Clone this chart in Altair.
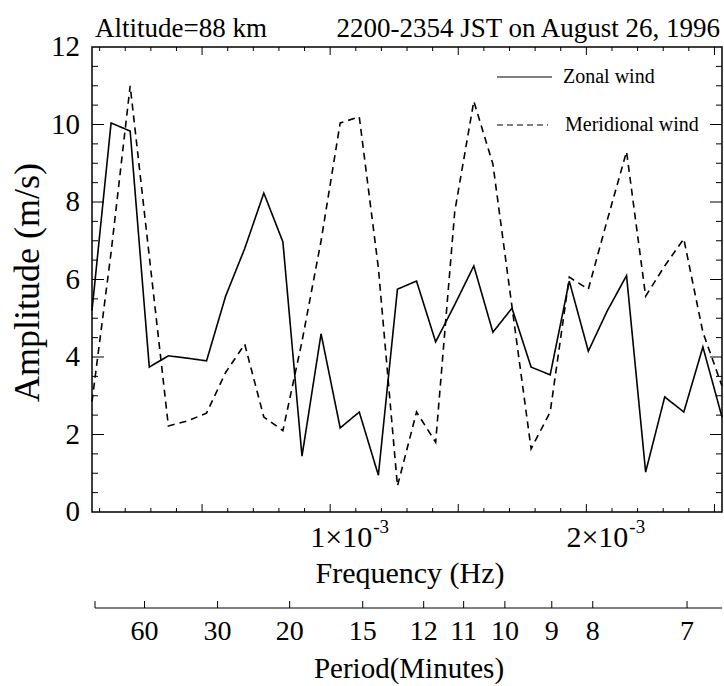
import altair as alt
import pandas as pd

# ---------------- data ----------------
freq_hz = [0.0703e-3, 0.1448e-3, 0.2193e-3, 0.2939e-3, 0.3684e-3, 0.4429e-3, 0.5174e-3,
           0.5919e-3, 0.6665e-3, 0.7410e-3, 0.8155e-3, 0.8900e-3, 0.9645e-3, 1.0391e-3,
           1.1136e-3, 1.1881e-3, 1.2626e-3, 1.3371e-3, 1.4117e-3, 1.4862e-3, 1.5607e-3,
           1.6352e-3, 1.7097e-3, 1.7843e-3, 1.8588e-3, 1.9333e-3, 2.0078e-3, 2.0823e-3,
           2.1569e-3, 2.2314e-3, 2.3059e-3, 2.3804e-3, 2.4549e-3, 2.5295e-3]

zonal = [5.2, 10.04, 9.83, 3.74, 4.03, 3.97, 3.9, 5.57, 6.8, 8.23, 6.97, 1.44, 4.6, 2.17,
         2.58, 0.95, 5.75, 5.96, 4.39, 5.35, 6.35, 4.64, 5.26, 3.74, 3.54, 5.96, 4.15, 5.2,
         6.1, 1.03, 2.97, 2.58, 4.26, 2.45]

meridional = [2.85, 6.7, 11.0, 6.6, 2.22, 2.35, 2.55, 3.6, 4.33, 2.45, 2.1, 4.4, 7.0, 10.04,
              10.2, 6.3, 0.67, 2.58, 1.8, 7.75, 10.6, 8.98, 5.3, 1.63, 2.58, 6.06, 5.75, 7.55,
              9.3, 5.57, 6.35, 7.05, 4.64, 3.25]

series_names = ["Zonal wind", "Meridional wind"]

x_major = [0.5e-3, 1.0e-3, 1.5e-3, 2.0e-3, 2.5e-3]
x_minor = [0.1e-3, 0.2e-3, 0.3e-3, 0.4e-3, 0.6e-3, 0.7e-3, 0.8e-3, 0.9e-3, 1.1e-3, 1.2e-3,
           1.3e-3, 1.4e-3, 1.6e-3, 1.7e-3, 1.8e-3, 1.9e-3, 2.1e-3, 2.2e-3, 2.3e-3, 2.4e-3]
x_label_values = [1.0e-3, 2.0e-3]
x_label_mant = ["1×10", "2×10"]
x_label_exp = ["-3", "-3"]

y_major = [2, 4, 6, 8, 10]
y_minor = [0.5, 1, 1.5, 2.5, 3, 3.5, 4.5, 5, 5.5, 6.5, 7, 7.5, 8.5, 9, 9.5, 10.5, 11, 11.5]
y_labels = [0, 2, 4, 6, 8, 10, 12]

period_labels = ["60", "30", "20", "15", "12", "11", "10", "9", "8", "7"]
period_freq = [0.2754e-3, 0.5605e-3, 0.8418e-3, 1.127e-3, 1.365e-3, 1.521e-3, 1.682e-3,
               1.865e-3, 2.025e-3, 2.393e-3]

title_left = "Altitude=88 km"
title_right = "2200-2354 JST on August 26, 1996"
x_title = "Frequency (Hz)"
y_title = "Amplitude (m/s)"
p_title = "Period(Minutes)"

# ---------------- layout ----------------
W, H = 630, 465
FONT = "Liberation Serif"
XDOM = [freq_hz[0], freq_hz[-1]]
xs = alt.Scale(domain=XDOM, nice=False, zero=False)
ys = alt.Scale(domain=[0, 12], nice=False, zero=False)

df = pd.DataFrame({
    "freq": freq_hz * 2,
    "amp": zonal + meridional,
    "series": [series_names[0]] * len(zonal) + [series_names[1]] * len(meridional),
})

lines = alt.Chart(df).mark_line(color="black", strokeWidth=1.6).encode(
    x=alt.X("freq:Q", scale=xs, axis=None),
    y=alt.Y("amp:Q", scale=ys, axis=None),
    strokeDash=alt.StrokeDash("series:N", scale=alt.Scale(domain=series_names,
                                                          range=[[1, 0], [7, 5]]), legend=None),
    detail="series:N",
)


def xticks(vals, length):
    d = pd.DataFrame({"v": vals})
    base = alt.Chart(d).mark_rule(color="black", strokeWidth=1)
    bot = base.encode(x=alt.X("v:Q", scale=xs, axis=None), y=alt.value(H), y2=alt.value(H - length))
    top = base.encode(x=alt.X("v:Q", scale=xs, axis=None), y=alt.value(0), y2=alt.value(length))
    return bot + top


def yticks(vals, length):
    d = pd.DataFrame({"v": vals})
    base = alt.Chart(d).mark_rule(color="black", strokeWidth=1)
    left = base.encode(y=alt.Y("v:Q", scale=ys, axis=None), x=alt.value(0), x2=alt.value(length))
    right = base.encode(y=alt.Y("v:Q", scale=ys, axis=None), x=alt.value(W), x2=alt.value(W - length))
    return left + right


ticks = xticks(x_major, 8) + xticks(x_minor, 4) + yticks(y_major, 12) + yticks(y_minor, 6)

ylab = alt.Chart(pd.DataFrame({"v": y_labels})).mark_text(
    font=FONT, fontSize=29, align="right", baseline="middle", color="black").encode(
    y=alt.Y("v:Q", scale=ys, axis=None), x=alt.value(-12), text="v:Q")

one = pd.DataFrame({"a": [0]})
ytitle = alt.Chart(one).mark_text(font=FONT, fontSize=36, align="center", baseline="middle",
                                  angle=270, color="black").encode(
    x=alt.value(-64), y=alt.value(H / 2 + 3), text=alt.value(y_title))

xlab_df = pd.DataFrame({"v": x_label_values, "m": x_label_mant, "e": x_label_exp})
xlab_m = alt.Chart(xlab_df).mark_text(font=FONT, fontSize=30, align="right", baseline="alphabetic",
                                      dx=42, color="black").encode(
    x=alt.X("v:Q", scale=xs, axis=None), y=alt.value(H + 35), text="m:N")
xlab_e = alt.Chart(xlab_df).mark_text(font=FONT, fontSize=19, align="left", baseline="alphabetic",
                                      dx=43, color="black").encode(
    x=alt.X("v:Q", scale=xs, axis=None), y=alt.value(H + 21), text="e:N")

freq_title = alt.Chart(one).mark_text(font=FONT, fontSize=30, align="center",
                                      baseline="alphabetic", color="black").encode(
    x=alt.value(318), y=alt.value(H + 71), text=alt.value(x_title))

# period axis
P_Y = H + 96
per_line = alt.Chart(one).mark_rule(color="black", strokeWidth=1.2).encode(
    x=alt.value(3), x2=alt.value(W), y=alt.value(P_Y))
per_end = alt.Chart(one).mark_rule(color="black", strokeWidth=1).encode(
    x=alt.value(3), y=alt.value(P_Y - 7), y2=alt.value(P_Y))
per_df = pd.DataFrame({"f": period_freq, "lab": period_labels})
per_ticks = alt.Chart(per_df).mark_rule(color="black", strokeWidth=1).encode(
    x=alt.X("f:Q", scale=xs, axis=None), y=alt.value(P_Y - 7), y2=alt.value(P_Y))
per_text = alt.Chart(per_df).mark_text(font=FONT, fontSize=28, align="center",
                                       baseline="alphabetic", color="black").encode(
    x=alt.X("f:Q", scale=xs, axis=None), y=alt.value(P_Y + 32), text="lab:N")
per_title = alt.Chart(one).mark_text(font=FONT, fontSize=29, align="center",
                                     baseline="alphabetic", color="black").encode(
    x=alt.value(317), y=alt.value(P_Y + 70), text=alt.value(p_title))

# titles above plot
t_left = alt.Chart(one).mark_text(font=FONT, fontSize=27, align="left", baseline="alphabetic",
                                  color="black").encode(
    x=alt.value(3), y=alt.value(-10), text=alt.value(title_left))
t_right = alt.Chart(one).mark_text(font=FONT, fontSize=27, align="right", baseline="alphabetic",
                                   color="black").encode(
    x=alt.value(W - 2), y=alt.value(-10), text=alt.value(title_right))

# legend
leg1 = alt.Chart(one).mark_rule(color="black", strokeWidth=1.2).encode(
    x=alt.value(405), x2=alt.value(460), y=alt.value(30))
leg2 = alt.Chart(one).mark_rule(color="black", strokeWidth=1.2, strokeDash=[6, 4]).encode(
    x=alt.value(405), x2=alt.value(456), y=alt.value(78))
leg1t = alt.Chart(one).mark_text(font=FONT, fontSize=20, align="left", baseline="middle",
                                 color="black").encode(
    x=alt.value(471), y=alt.value(30), text=alt.value(series_names[0]))
leg2t = alt.Chart(one).mark_text(font=FONT, fontSize=20, align="left", baseline="middle",
                                 color="black").encode(
    x=alt.value(473), y=alt.value(78), text=alt.value(series_names[1]))

chart = alt.layer(
    lines, ticks, ylab, ytitle, xlab_m, xlab_e, freq_title,
    per_line, per_end, per_ticks, per_text, per_title,
    t_left, t_right, leg1, leg2, leg1t, leg2t,
).properties(
    width=W, height=H,
    autosize=alt.AutoSizeParams(type="none"),
    padding={"left": 92, "top": 47, "right": 2, "bottom": 174},
    background="white",
).configure_view(stroke="black", strokeWidth=1.5)

chart.save("out.html", embed_options={"renderer": "svg", "actions": False})
